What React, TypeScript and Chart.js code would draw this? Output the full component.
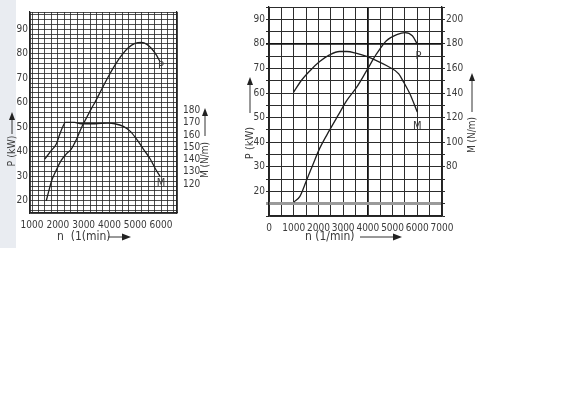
import React, { useEffect, useRef } from 'react';
import { Chart, registerables } from 'chart.js';

Chart.register(...registerables);

// ---------- Left chart data ----------
const leftRpmP = [1550, 1650, 1750, 1940, 2130, 2330, 2520, 2720, 2910, 3100, 3300, 3440, 3700, 3960, 4220, 4470, 4730, 4990, 5250, 5440, 5640, 5830, 5960];
const leftPowerKW = [20, 24, 27.9, 32.5, 36.5, 39.1, 41.1, 45, 49.7, 53.6, 57.6, 60.2, 65.5, 70.7, 75.4, 79.3, 82.4, 84.2, 84.6, 83.9, 82, 79.3, 76.7];
const leftRpmM = [1490, 1750, 1940, 2070, 2200, 2290, 2650, 2910, 3440, 3940, 4210, 4540, 4800, 5060, 5310, 5570, 5770, 5960];
const leftTorqueNm = [140.3, 147.4, 152.6, 160.5, 167.1, 170.3, 170.3, 169.2, 169.2, 169.7, 169.2, 167.1, 163.2, 156.5, 148.7, 140.8, 132.9, 126.3];
const leftXLabels = [1000, 2000, 3000, 4000, 5000, 6000];
const leftPLabels = [20, 30, 40, 50, 60, 70, 80, 90];
const leftMLabels = [120, 130, 140, 150, 160, 170, 180];

// ---------- Right chart data ----------
const rightRpmP = [1000, 1250, 1500, 1800, 2050, 2450, 2800, 3150, 3550, 3950, 4350, 4750, 5200, 5500, 5800, 6000];
const rightPowerKW = [15.6, 18, 24, 31.5, 37.5, 44.9, 51, 57, 62.4, 69.1, 75.9, 81.3, 83.9, 84.6, 83.3, 79.9];
const rightRpmM = [1000, 1300, 1650, 2050, 2450, 2850, 3150, 3550, 3950, 4350, 4750, 5250, 5450, 5700, 6000];
const rightTorqueNm = [140.8, 150, 158, 165.6, 171, 173.8, 173.8, 172.2, 169.8, 166.4, 162.4, 155.6, 148.8, 139.4, 124.6];
const rightXLabels = [0, 1000, 2000, 3000, 4000, 5000, 6000, 7000];
const rightPLabels = [20, 30, 40, 50, 60, 70, 80, 90];
const rightMLabels = [80, 100, 120, 140, 160, 180, 200];

const FONT = "'Liberation Sans Narrow', 'DejaVu Sans Condensed', 'Liberation Sans', Arial, sans-serif";
const TXT = '#3a3a3a';

function steps(from: number, to: number, step: number, edges: number[] = []): number[] {
  const out: number[] = [...edges];
  for (let v = from; v <= to + 1e-9; v += step) out.push(Math.round(v * 1000) / 1000);
  return out.sort((a, b) => a - b);
}

function pts(xs: number[], ys: number[]) {
  return xs.map((x, i) => ({ x, y: ys[i] }));
}

function vArrow(ctx: CanvasRenderingContext2D, x: number, yBottom: number, yTop: number) {
  ctx.save();
  ctx.strokeStyle = '#333';
  ctx.fillStyle = '#222';
  ctx.lineWidth = 1;
  ctx.beginPath();
  ctx.moveTo(x, yBottom);
  ctx.lineTo(x, yTop + 6);
  ctx.stroke();
  ctx.beginPath();
  ctx.moveTo(x, yTop);
  ctx.lineTo(x - 3, yTop + 8);
  ctx.lineTo(x + 3, yTop + 8);
  ctx.closePath();
  ctx.fill();
  ctx.restore();
}

function hArrow(ctx: CanvasRenderingContext2D, y: number, xLeft: number, xRight: number) {
  ctx.save();
  ctx.strokeStyle = '#333';
  ctx.fillStyle = '#222';
  ctx.lineWidth = 1;
  ctx.beginPath();
  ctx.moveTo(xLeft, y);
  ctx.lineTo(xRight - 6, y);
  ctx.stroke();
  ctx.beginPath();
  ctx.moveTo(xRight, y);
  ctx.lineTo(xRight - 9, y - 3.5);
  ctx.lineTo(xRight - 9, y + 3.5);
  ctx.closePath();
  ctx.fill();
  ctx.restore();
}

function vText(ctx: CanvasRenderingContext2D, text: string, cx: number, cy: number, size: number) {
  ctx.save();
  ctx.translate(cx, cy);
  ctx.rotate(-Math.PI / 2);
  ctx.font = `${size}px ${FONT}`;
  ctx.fillStyle = TXT;
  ctx.textAlign = 'center';
  ctx.textBaseline = 'middle';
  ctx.fillText(text, 0, 0);
  ctx.restore();
}

type Overlay = {
  curveLabels: { text: string; x: number; y: number; axis: string }[];
  yTitles: { text: string; cx: number; cy: number; arrowBottom: number; arrowTop: number; size: number }[];
  xTitle: { text: string; x: number; y: number; arrowFrom: number; arrowTo: number };
};

function overlayPlugin(o: Overlay) {
  return {
    id: 'overlay',
    afterDraw(chart: any) {
      const ctx: CanvasRenderingContext2D = chart.ctx;
      ctx.save();
      ctx.font = `11px ${FONT}`;
      ctx.fillStyle = TXT;
      ctx.textAlign = 'center';
      ctx.textBaseline = 'middle';
      for (const l of o.curveLabels) {
        const px = chart.scales.x.getPixelForValue(l.x);
        const py = chart.scales[l.axis].getPixelForValue(l.y);
        ctx.fillText(l.text, px, py);
      }
      ctx.restore();
      for (const t of o.yTitles) {
        vText(ctx, t.text, t.cx, t.cy, t.size);
        vArrow(ctx, t.cx, t.arrowBottom, t.arrowTop);
      }
      ctx.save();
      ctx.font = `12px ${FONT}`;
      ctx.fillStyle = TXT;
      ctx.textAlign = 'left';
      ctx.textBaseline = 'middle';
      ctx.fillText(o.xTitle.text, o.xTitle.x, o.xTitle.y);
      ctx.restore();
      hArrow(ctx, o.xTitle.y, o.xTitle.arrowFrom, o.xTitle.arrowTo);
    },
  };
}

const lineStyle = {
  borderColor: '#1e1e1e',
  borderWidth: 1.3,
  pointRadius: 0,
  fill: false,
  cubicInterpolationMode: 'monotone' as const,
};

function leftConfig(): any {
  const gridX = steps(1000, 6500, 250, [920, 6620]);
  const gridY = steps(16, 96, 2, [15, 97]);
  const gridC = 'rgba(35,35,35,0.8)';
  return {
    type: 'line',
    data: {
      datasets: [
        { label: 'P', data: pts(leftRpmP, leftPowerKW), yAxisID: 'y', ...lineStyle },
        { label: 'M', data: pts(leftRpmM, leftTorqueNm), yAxisID: 'y2', ...lineStyle },
      ],
    },
    options: {
      responsive: false,
      animation: false,
      events: [],
      layout: { padding: { top: 5, left: 0, right: 0, bottom: 0 }, autoPadding: false },
      plugins: { legend: { display: false }, tooltip: { enabled: false } },
      scales: {
        x: {
          type: 'linear',
          min: 920,
          max: 6620,
          afterBuildTicks: (s: any) => { s.ticks = gridX.map((v) => ({ value: v })); },
          afterFit: (s: any) => { s.height = 37; },
          grid: { color: gridC, lineWidth: 1, drawTicks: false },
          border: { color: '#222', width: 1.2 },
          ticks: {
            autoSkip: false, maxRotation: 0, minRotation: 0, padding: 6, color: TXT,
            font: { family: FONT, size: 10 },
            callback: (v: number) => (leftXLabels.includes(v) ? String(v) : ''),
          },
        },
        y: {
          position: 'left',
          min: 15,
          max: 97,
          afterBuildTicks: (s: any) => { s.ticks = gridY.map((v) => ({ value: v })); },
          afterFit: (s: any) => { s.width = 30; },
          grid: { color: gridC, lineWidth: 1, drawTicks: false },
          border: { color: '#222', width: 1.2 },
          ticks: {
            autoSkip: false, padding: 2, color: TXT,
            font: { family: FONT, size: 10 },
            callback: (v: number) => (leftPLabels.includes(v) ? String(v) : ''),
          },
        },
        y2: {
          position: 'right',
          min: 96.3,
          max: 260.5,
          afterBuildTicks: (s: any) => { s.ticks = leftMLabels.map((v) => ({ value: v })); },
          afterFit: (s: any) => { s.width = 63; },
          grid: { drawOnChartArea: false, drawTicks: false },
          border: { color: '#222', width: 1.2 },
          ticks: {
            autoSkip: false, padding: 6, color: TXT,
            font: { family: FONT, size: 10 },
            callback: (v: number) => String(v),
          },
        },
      },
    },
    plugins: [
      overlayPlugin({
        curveLabels: [
          { text: 'P', x: 6000, y: 75, axis: 'y' },
          { text: 'M', x: 6000, y: 121, axis: 'y2' },
        ],
        yTitles: [
          { text: 'P (kW)', cx: 12, cy: 151, arrowBottom: 134, arrowTop: 112, size: 10.5 },
          { text: 'M (N/m)', cx: 205, cy: 160, arrowBottom: 136, arrowTop: 108, size: 10 },
        ],
        xTitle: { text: 'n  (1(min)', x: 57, y: 237, arrowFrom: 108, arrowTo: 131 },
      }),
    ],
  };
}

function rightConfig(): any {
  const gridX = steps(0, 7000, 500);
  const gridY = steps(10, 95, 5);
  const gridM = steps(40, 210, 10);
  return {
    type: 'line',
    data: {
      datasets: [
        { label: 'P', data: pts(rightRpmP, rightPowerKW), yAxisID: 'y', ...lineStyle },
        { label: 'M', data: pts(rightRpmM, rightTorqueNm), yAxisID: 'y2', ...lineStyle },
      ],
    },
    options: {
      responsive: false,
      animation: false,
      events: [],
      layout: { padding: { top: 6, left: 0, right: 0, bottom: 0 }, autoPadding: false },
      plugins: { legend: { display: false }, tooltip: { enabled: false } },
      scales: {
        x: {
          type: 'linear',
          min: 0,
          max: 7000,
          afterBuildTicks: (s: any) => { s.ticks = gridX.map((v) => ({ value: v })); },
          afterFit: (s: any) => { s.height = 34; },
          grid: {
            color: (c: any) => (c.tick && c.tick.value === 4000 ? '#111' : '#2c2c2c'),
            lineWidth: (c: any) => (c.tick && c.tick.value === 4000 ? 1.8 : 1),
            drawTicks: false,
          },
          border: { color: '#222', width: 1.2 },
          ticks: {
            autoSkip: false, maxRotation: 0, minRotation: 0, padding: 6, color: TXT,
            font: { family: FONT, size: 10 },
            callback: (v: number) => (rightXLabels.includes(v) ? String(v) : ''),
          },
        },
        y: {
          position: 'left',
          min: 10,
          max: 95,
          afterBuildTicks: (s: any) => { s.ticks = gridY.map((v) => ({ value: v })); },
          afterFit: (s: any) => { s.width = 29; },
          grid: {
            color: (c: any) => (c.tick && c.tick.value === 15 ? '#9a9a9a' : c.tick && c.tick.value === 80 ? '#111' : '#2c2c2c'),
            lineWidth: (c: any) => (c.tick && c.tick.value === 15 ? 3 : c.tick && c.tick.value === 80 ? 1.8 : 1),
            drawTicks: true,
            tickLength: 3,
          },
          border: { color: '#222', width: 1.3 },
          ticks: {
            autoSkip: false, padding: 1, color: TXT,
            font: { family: FONT, size: 10 },
            callback: (v: number) => (rightPLabels.includes(v) ? String(v) : ''),
          },
        },
        y2: {
          position: 'right',
          min: 40,
          max: 210,
          afterBuildTicks: (s: any) => { s.ticks = gridM.map((v) => ({ value: v })); },
          afterFit: (s: any) => { s.width = 58; },
          grid: { drawOnChartArea: false, drawTicks: true, tickLength: 3, color: '#2c2c2c' },
          border: { color: '#222', width: 1.3 },
          ticks: {
            autoSkip: false, padding: 1, color: TXT,
            font: { family: FONT, size: 10 },
            callback: (v: number) => (rightMLabels.includes(v) ? String(v) : ''),
          },
        },
      },
    },
    plugins: [
      overlayPlugin({
        curveLabels: [
          { text: 'P', x: 6050, y: 75, axis: 'y' },
          { text: 'M', x: 6000, y: 113, axis: 'y2' },
        ],
        yTitles: [
          { text: 'P (kW)', cx: 10, cy: 143, arrowBottom: 113, arrowTop: 77, size: 11 },
          { text: 'M (N/m)', cx: 232, cy: 135, arrowBottom: 112, arrowTop: 73, size: 10 },
        ],
        xTitle: { text: 'n (1/min)', x: 65, y: 237, arrowFrom: 120, arrowTo: 162 },
      }),
    ],
  };
}

function ChartCanvas({ config, left, width, height }: { config: () => any; left: number; width: number; height: number }) {
  const ref = useRef<HTMLCanvasElement | null>(null);
  useEffect(() => {
    if (!ref.current) return;
    const chart = new Chart(ref.current, config());
    return () => chart.destroy();
  }, [config]);
  return (
    <canvas
      ref={ref}
      width={width}
      height={height}
      style={{ position: 'absolute', left, top: 0, width, height }}
    />
  );
}

export default function App() {
  return (
    <div style={{ position: 'absolute', left: 0, top: 0, width: 582, height: 394, background: '#ffffff', overflow: 'hidden' }}>
      <div style={{ position: 'absolute', left: 0, top: 0, width: 16, height: 248, background: '#e9ecf1' }} />
      <ChartCanvas config={leftConfig} left={0} width={240} height={250} />
      <ChartCanvas config={rightConfig} left={240} width={260} height={250} />
    </div>
  );
}
